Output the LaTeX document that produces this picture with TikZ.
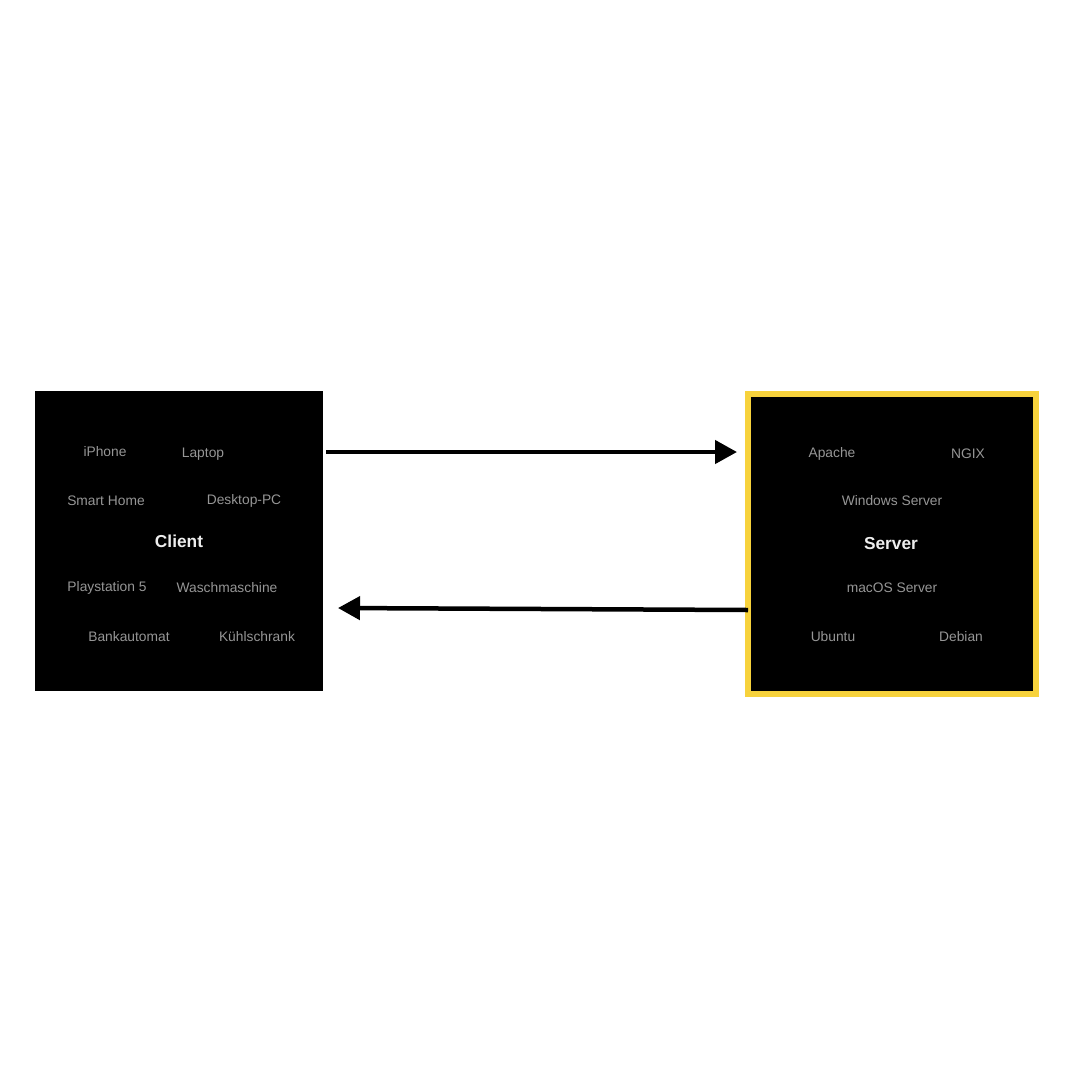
\documentclass[tikz,border=0pt]{standalone}
\usepackage{fontspec}
\setmainfont{Liberation Sans}
\usetikzlibrary{arrows.meta,calc}
\definecolor{itemgray}{RGB}{150,150,150}
\definecolor{titlewhite}{RGB}{238,238,238}
\definecolor{srvyellow}{RGB}{247,210,60}
\tikzset{
  blackbox/.style={fill=black,draw=none,minimum width=288pt,minimum height=300pt,inner sep=0pt,outer sep=0pt},
  item/.style={text=itemgray,font=\fontsize{13.8}{14}\selectfont,inner sep=0pt},
  title/.style={text=titlewhite,font=\fontsize{17.3}{18}\selectfont\bfseries,inner sep=0pt},
  flow/.style={line width=4.5pt,-{Triangle[length=22pt,width=23pt]}}
}
\begin{document}
\begin{tikzpicture}[x=1pt,y=-1pt]
\useasboundingbox (0,0) rectangle (1080,1080);
\fill[white] (0,0) rectangle (1080,1080);
% client
\node[blackbox] (client) at (179,541) {};
\node[title] (clientlbl) at (179,541) {Client};
\node[item] (iphone) at (105,452) {iPhone};
\node[item] (laptop) at (203,454) {Laptop};
\node[item] (smarthome) at (106,501) {Smart Home};
\node[item] (desktop) at (244,501) {Desktop-PC};
\node[item] (ps5) at (107,588) {Playstation 5};
\node[item] (wasch) at (227,588) {Waschmaschine};
\node[item] (bank) at (129,637) {Bankautomat};
\node[item] (kuehl) at (257,637) {Kühlschrank};
% server
\node[blackbox,draw=srvyellow,line width=6pt,outer sep=3pt] (server) at (892,544) {};
\node[title] (serverlbl) at (891,544) {Server};
\node[item] (apache) at (832,454) {Apache};
\node[item] (ngix) at (968,454) {NGIX};
\node[item] (winsrv) at (892,501) {Windows Server};
\node[item] (macsrv) at (892,588) {macOS Server};
\node[item] (ubuntu) at (833,637) {Ubuntu};
\node[item] (debian) at (961,637) {Debian};
% arrows
\draw[flow] ($(client.east)+(3,-89)$) -- ($(server.west)+(-8,-92)$);
\draw[flow] ($(server.west)+(3,66)$) -- ($(client.east)+(15,67)$);
\end{tikzpicture}
\end{document}
